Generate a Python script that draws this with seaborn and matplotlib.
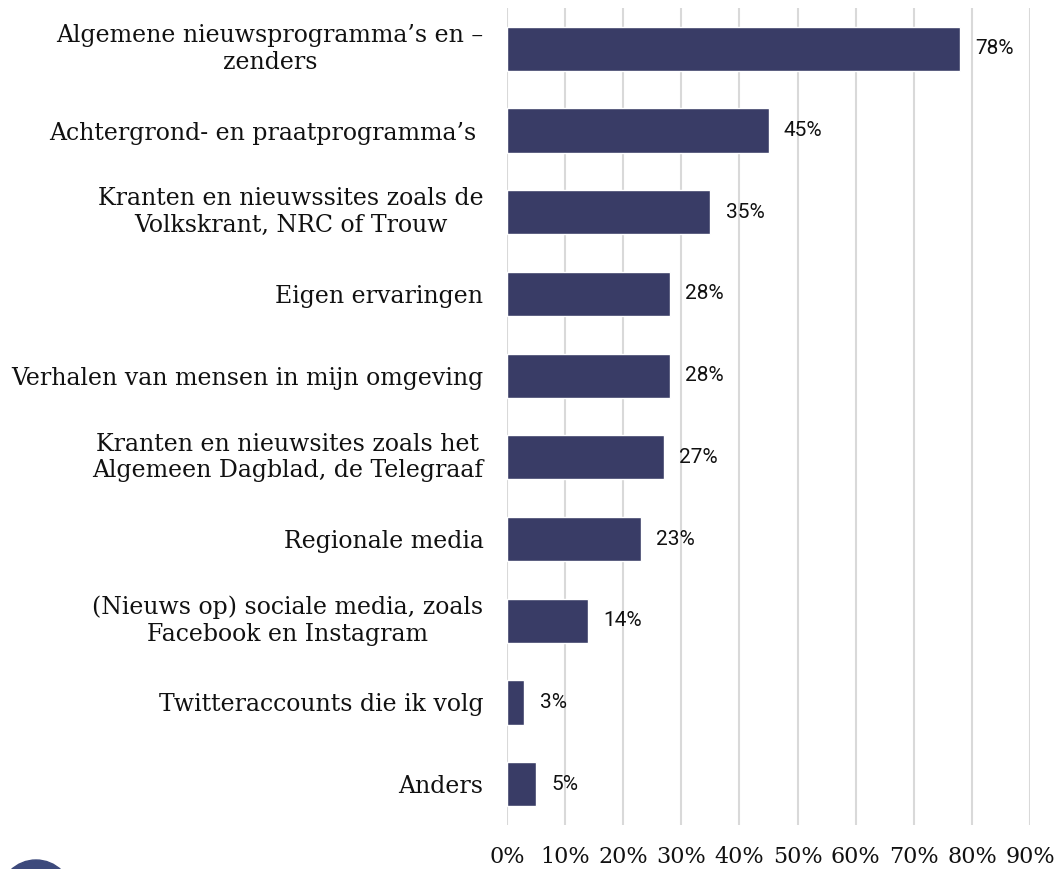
import matplotlib
matplotlib.use("Agg")
import matplotlib.pyplot as plt
import seaborn as sns
import pandas as pd
from matplotlib.patches import Ellipse

categories = [
    "Algemene nieuwsprogramma’s en –\nzenders",
    "Achtergrond- en praatprogramma’s ",
    "Kranten en nieuwssites zoals de\nVolkskrant, NRC of Trouw",
    "Eigen ervaringen",
    "Verhalen van mensen in mijn omgeving",
    "Kranten en nieuwsites zoals het\nAlgemeen Dagblad, de Telegraaf",
    "Regionale media",
    "(Nieuws op) sociale media, zoals\nFacebook en Instagram",
    "Twitteraccounts die ik volg",
    "Anders",
]
values = [78, 45, 35, 28, 28, 27, 23, 14, 3, 5]
xticks = [0, 10, 20, 30, 40, 50, 60, 70, 80, 90]
xticklabels = ["0%", "10%", "20%", "30%", "40%", "50%", "60%", "70%", "80%", "90%"]

sns.set_style("white")
plt.rcParams["font.family"] = ["DejaVu Serif"]

df = pd.DataFrame({"cat": categories, "val": values})

fig = plt.figure(figsize=(10.61, 8.69), dpi=100)
ax = fig.add_axes([507 / 1061, 1 - 825 / 869, (1030 - 507) / 1061, (825 - 8) / 869])

sns.barplot(data=df, y="cat", x="val", orient="h", color="#393c66",
            saturation=1, width=0.54, ax=ax)

ax.set_xlim(0, 90)
ax.set_ylim(9.5, -0.5)
ax.set_xticks(xticks)
ax.set_xticklabels(xticklabels, fontsize=16, color="#111111")
ax.set_yticks(range(len(categories)))
ax.set_yticklabels(categories, fontsize=17, color="#111111",
                   multialignment="center", linespacing=1.2)
for lab in ax.get_yticklabels():
    if "\n" in lab.get_text():
        lab.set_verticalalignment("center")
ax.tick_params(axis="y", length=0, pad=17)
ax.tick_params(axis="x", length=0, pad=15)
ax.set_xlabel("")
ax.set_ylabel("")
for s in ax.spines.values():
    s.set_visible(False)
ax.grid(axis="x", color="#d9d9d9", linewidth=1.5)
ax.grid(axis="y", visible=False)
ax.set_axisbelow(True)

for c in ax.containers:
    ax.bar_label(c, labels=[f"{v}%" for v in values], padding=11,
                 fontsize=15, family="Roboto", color="#111111")

logo = Ellipse((36 / 1061, 1 - 896.5 / 869), 73 / 1061, 73 / 869,
               transform=fig.transFigure, color="#3d4a7c", clip_on=False)
fig.patches.append(logo)

fig.savefig("out.png", dpi=100)
